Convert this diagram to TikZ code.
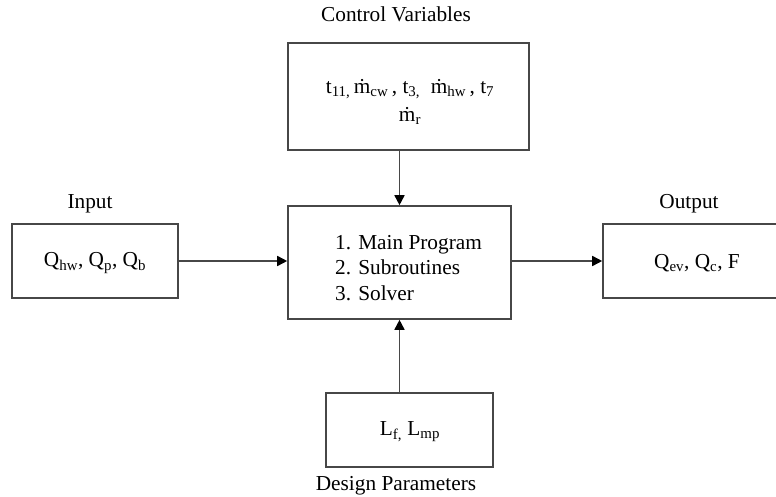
\documentclass[tikz,border=0pt]{standalone}
\usepackage{fontspec}
\setmainfont{Liberation Serif}
\usetikzlibrary{arrows.meta}
\begin{document}
\begin{tikzpicture}[x=1pt,y=-1pt,
  box/.style={draw=black!72, line width=1.6pt, fill=white, inner sep=0pt},
  txt/.style={font=\fontsize{21.3}{28}\selectfont, inner sep=0pt},
  lbl/.style={font=\fontsize{21.3}{26}\selectfont, inner sep=0pt},
  arr/.style={draw=black!72, line width=1.6pt, -{Triangle[length=10pt,width=10pt,color=black]}}]
\useasboundingbox (0,0) rectangle (776,497);
% boxes
\node[box, minimum width=241pt, minimum height=107pt] (ctrl) at (408.5,96.5) {};
\node[box, minimum width=223pt, minimum height=113pt] (main) at (399.5,262.5) {};
\node[box, minimum width=166pt, minimum height=74pt] (inp) at (95,261) {};
\node[box, minimum width=187pt, minimum height=74pt] (outp) at (696.5,261) {};
\node[box, minimum width=167pt, minimum height=74pt] (des) at (409.5,430) {};
% box texts
\node[txt, align=center] (ctrltxt) at (410,102) {t\textsubscript{11,}\,\.{m}\textsubscript{cw}\,, t\textsubscript{3,}\ \ \.{m}\textsubscript{hw}\,, t\textsubscript{7}\\ \.{m}\textsubscript{r}};
\node[txt, align=left, anchor=west, font=\fontsize{21.3}{25.5}\selectfont] (maintxt) at (335,268) {1. Main Program\\2. Subroutines\\3. Solver};
\node[txt] (inptxt) at (95,263) {Q\textsubscript{hw}, Q\textsubscript{p}, Q\textsubscript{b}};
\node[txt] (outtxt) at (697,263) {Q\textsubscript{ev}, Q\textsubscript{c}, F};
\node[txt] (destxt) at (410,432) {L\textsubscript{f,} L\textsubscript{mp}};
% labels
\node[lbl] (lctrl) at (396,14) {Control Variables};
\node[lbl] (linp) at (90,204) {Input};
\node[lbl] (lout) at (689,204) {Output};
\node[lbl] (ldes) at (396,486) {Design Parameters};
% connectors
\draw[arr] (main.north |- ctrl.south) -- (main.north);
\draw[arr] (main.south |- des.north) -- (main.south);
\draw[arr] (inp.east) -- (main.west |- inp.east);
\draw[arr] (main.east |- outp.west) -- (outp.west);
\end{tikzpicture}
\end{document}
